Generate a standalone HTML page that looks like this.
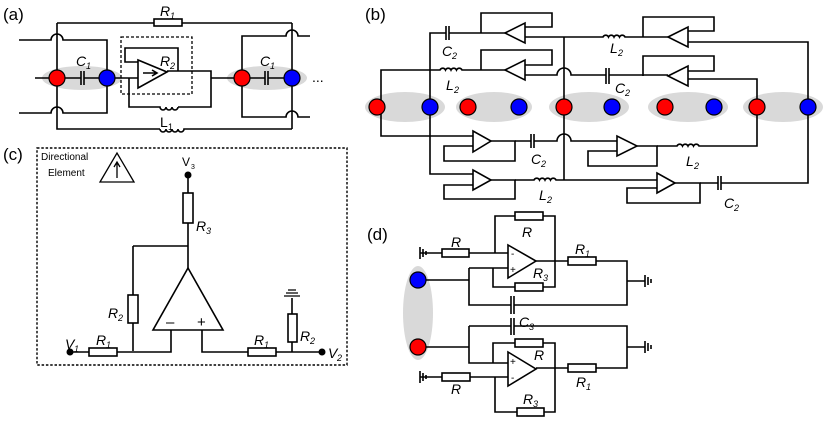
<!DOCTYPE html>
<html><head><meta charset="utf-8"><style>
html,body{margin:0;padding:0;background:#fff;}
svg{display:block;}
text{font-family:"Liberation Sans",sans-serif;fill:#000;}
.l{font-style:italic;font-size:14px;}
.s{font-size:9px;font-style:italic;}
</style></head><body>
<svg width="831" height="430" viewBox="0 0 831 430" xmlns="http://www.w3.org/2000/svg">
<g fill="none" stroke="#000" stroke-width="1.6">
<!-- ===== (a) ===== -->
<ellipse cx="82" cy="78" rx="40" ry="12" fill="#d9d9d9" stroke="none"/>
<ellipse cx="267" cy="78" rx="40" ry="12" fill="#d9d9d9" stroke="none"/>
<path d="M57 23H292"/>
<rect x="154" y="19" width="28" height="7" fill="#fff"/>
<path d="M57 23V129H160"/>
<path d="M160 129a3 3 0 0 0 6 0a3 3 0 0 0 6 0a3 3 0 0 0 6 0a3 3 0 0 0 6 0H292"/>
<path d="M19 40H51a6 6 0 0 1 12 0H107V113H63a6 6 0 0 0 -12 0H19"/>
<path d="M35 78H81M84 78H107M81 71V85M84 71V85"/>
<path d="M107 78H138"/>
<rect x="121" y="37" width="71" height="57" stroke-dasharray="3 2" stroke-width="1.3"/>
<path d="M138 60V88L167 72Z" fill="#fff"/>
<path d="M143 73H156M152 70L157 73L152 76"/>
<path d="M138 62H125V48H178V71"/>
<path d="M167 71H211V107H178"/>
<path d="M178 107a3 3 0 0 1 -6 0a3 3 0 0 1 -6 0a3 3 0 0 1 -6 0H129V78"/>
<path d="M211 78H242"/>
<path d="M242 78H265M268 78H292M265 71V85M268 71V85"/>
<path d="M310 36H298a6 6 0 0 0 -12 0H242V117H286a6 6 0 0 1 12 0H310"/>
<path d="M292 23V129"/>
</g>
<g stroke="#000" stroke-width="1.2">
<circle cx="57" cy="78" r="8" fill="#f00"/><circle cx="107" cy="78" r="8" fill="#00f"/>
<circle cx="242" cy="78" r="8" fill="#f00"/><circle cx="292" cy="78" r="8" fill="#00f"/>
</g>
<text x="3" y="20" font-size="17">(a)</text>
<text x="160" y="16" class="l">R</text><text x="170" y="19" class="s">1</text>
<text x="76" y="66" class="l">C</text><text x="86" y="69" class="s">1</text>
<text x="260" y="66" class="l">C</text><text x="270" y="69" class="s">1</text>
<text x="160" y="66" class="l">R</text><text x="170" y="69" class="s">2</text>
<text x="160" y="127" font-size="14">L</text><text x="168" y="130" font-size="9">1</text>
<text x="312" y="82" font-size="14">...</text>

<!-- ===== (b) ===== -->
<g fill="#d9d9d9" stroke="none">
<ellipse cx="405" cy="107" rx="40" ry="15"/><ellipse cx="494" cy="107" rx="38" ry="15"/>
<ellipse cx="589" cy="107" rx="40" ry="15"/><ellipse cx="688" cy="107" rx="40" ry="15"/>
<ellipse cx="783" cy="107" rx="40" ry="15"/>
</g>
<g fill="none" stroke="#000" stroke-width="1.6">
<path d="M430 107V33H446M449 33H481M446 26V40M449 26V40M481 33H505"/>
<path d="M505 33L525 23V43Z" fill="#fff"/>
<path d="M481 33V13H552V27H525"/>
<path d="M525 37H603a3 3 0 0 1 5.5 0a3 3 0 0 1 5.5 0a3 3 0 0 1 5.5 0a3 3 0 0 1 5.5 0H668"/>
<path d="M564 37V180"/>
<path d="M668 37L688 27V47Z" fill="#fff"/>
<path d="M643 37V17H714V31H688"/>
<path d="M688 42H808V107"/>
<path d="M381 107V70H440a3 3 0 0 1 5.5 0a3 3 0 0 1 5.5 0a3 3 0 0 1 5.5 0a3 3 0 0 1 5.5 0H505"/>
<path d="M505 70L525 60V80Z" fill="#fff"/>
<path d="M481 70V50H552V65H525"/>
<path d="M525 75H557a7 7 0 0 1 14 0H606M609 75H668M606 68V84M609 68V84"/>
<path d="M668 76L688 66V86Z" fill="#fff"/>
<path d="M643 76V56H714V71H688"/>
<path d="M688 79H757V107"/>
<path d="M381 107V136H473"/>
<path d="M473 131V152L491 141Z" fill="#fff"/>
<path d="M491 141H515V161H444V146H473"/>
<path d="M515 141H531M534 141H557a7 7 0 0 1 14 0H617M531 134V148M534 134V148"/>
<path d="M617 136V156L637 146Z" fill="#fff"/>
<path d="M637 146H657V166H588V151H617"/>
<path d="M657 146H677a3 3 0 0 1 5.5 0a3 3 0 0 1 5.5 0a3 3 0 0 1 5.5 0a3 3 0 0 1 5.5 0H757V107"/>
<path d="M430 107V174H473"/>
<path d="M473 170V190L491 180Z" fill="#fff"/>
<path d="M491 180H515V199H444V185H473"/>
<path d="M515 180H534a3 3 0 0 1 5.5 0a3 3 0 0 1 5.5 0a3 3 0 0 1 5.5 0a3 3 0 0 1 5.5 0H657"/>
<path d="M657 173V193L675 183Z" fill="#fff"/>
<path d="M675 183H700V203H627V188H657"/>
<path d="M700 183H718M721 183H808V107M718 176V190M721 176V190"/>
</g>
<g stroke="#000" stroke-width="1.2">
<circle cx="377" cy="107" r="8" fill="#f00"/><circle cx="430" cy="107" r="8" fill="#00f"/>
<circle cx="468" cy="107" r="8" fill="#f00"/><circle cx="519" cy="107" r="8" fill="#00f"/>
<circle cx="564" cy="107" r="8" fill="#f00"/><circle cx="612" cy="107" r="8" fill="#00f"/>
<circle cx="665" cy="107" r="8" fill="#f00"/><circle cx="714" cy="107" r="8" fill="#00f"/>
<circle cx="757" cy="107" r="8" fill="#f00"/><circle cx="808" cy="107" r="8" fill="#00f"/>
</g>
<text x="365" y="20" font-size="17">(b)</text>
<text x="442" y="56" class="l">C</text><text x="452" y="59" class="s">2</text>
<text x="446" y="90" class="l">L</text><text x="454" y="93" class="s">2</text>
<text x="610" y="53" class="l">L</text><text x="618" y="56" class="s">2</text>
<text x="615" y="93" class="l">C</text><text x="625" y="96" class="s">2</text>
<text x="531" y="164" class="l">C</text><text x="541" y="167" class="s">2</text>
<text x="686" y="166" class="l">L</text><text x="694" y="169" class="s">2</text>
<text x="539" y="200" class="l">L</text><text x="547" y="203" class="s">2</text>
<text x="724" y="208" class="l">C</text><text x="734" y="211" class="s">2</text>

<!-- ===== (c) ===== -->
<g fill="none" stroke="#000" stroke-width="1.6">
<rect x="37" y="148" width="310" height="217" stroke-dasharray="2.5 1.8" stroke-width="1.4"/>
<path d="M100 182H134L117 153Z" stroke-width="1.3"/>
<path d="M117 178V163M114 167L117 162L120 167" stroke-width="1.3"/>
<path d="M188 175V268M133 246H188M133 246V351M70 352H171V330M202 330V352H322M292 352V298"/>
<path d="M153 330H223L188 268Z" fill="#fff"/>
<rect x="183" y="193" width="10" height="30" fill="#fff"/>
<rect x="128" y="295" width="10" height="28" fill="#fff"/>
<rect x="89" y="348" width="28" height="8" fill="#fff"/>
<rect x="248" y="348" width="28" height="8" fill="#fff"/>
<rect x="288" y="314" width="9" height="28" fill="#fff"/>
<path d="M284 296H300M286 293H298M288 290H296" stroke-width="1.3"/>
</g>
<circle cx="188" cy="175" r="3.5"/><circle cx="70" cy="352" r="3.5"/><circle cx="322" cy="352" r="3.5"/>
<text x="3" y="160" font-size="17">(c)</text>
<text x="41" y="160" font-size="10">Directional</text>
<text x="48" y="176" font-size="10">Element</text>
<text x="182" y="166" font-size="12">V</text><text x="191" y="169" font-size="7">3</text>
<text x="196" y="231" class="l">R</text><text x="206" y="234" class="s">3</text>
<text x="108" y="318" class="l">R</text><text x="118" y="321" class="s">2</text>
<text x="166" y="327" font-size="15">–</text><text x="197" y="327" font-size="15">+</text>
<text x="65" y="349" class="l">V</text><text x="74" y="352" class="s">1</text>
<text x="96" y="345" class="l">R</text><text x="106" y="348" class="s">1</text>
<text x="254" y="345" class="l">R</text><text x="264" y="348" class="s">1</text>
<text x="300" y="341" class="l">R</text><text x="310" y="344" class="s">2</text>
<text x="328" y="358" class="l">V</text><text x="337" y="361" class="s">2</text>

<!-- ===== (d) ===== -->
<ellipse cx="418" cy="313" rx="15" ry="47" fill="#d9d9d9"/>
<g fill="none" stroke="#000" stroke-width="1.6">
<path d="M420 253H508M495 253V216H555V287H493V268H508M469 268H493M469 268V305H511M514 305H627V261H535"/>
<path d="M418 280H469"/>
<path d="M627 281H645M645 275V287M648 277V285M651 279V283M420 247V259M423 249V257M426 251V255"/>
<path d="M508 245V278L536 261Z" fill="#fff"/>
<rect x="442" y="249" width="27" height="8" fill="#fff"/>
<rect x="515" y="212" width="28" height="8" fill="#fff"/>
<rect x="515" y="283" width="28" height="8" fill="#fff"/>
<rect x="568" y="257" width="28" height="8" fill="#fff"/>
<path d="M511 296V314M514 296V314"/>
<path d="M511 318V335M514 318V335"/>
<path d="M469 326H511M514 326H627V368H536M469 326V363H508M493 363V343H555V412H495V377"/>
<path d="M418 347H469M420 377H508"/>
<path d="M627 347H645M645 341V353M648 343V351M651 345V349M420 371V383M423 373V381M426 375V379"/>
<path d="M508 352V386L536 369Z" fill="#fff"/>
<rect x="442" y="373" width="28" height="8" fill="#fff"/>
<rect x="515" y="339" width="28" height="8" fill="#fff"/>
<rect x="517" y="408" width="27" height="8" fill="#fff"/>
<rect x="568" y="364" width="28" height="8" fill="#fff"/>
</g>
<g stroke="#000" stroke-width="1.2">
<circle cx="418" cy="280" r="8" fill="#00f"/><circle cx="418" cy="347" r="8" fill="#f00"/>
</g>
<text x="367" y="240" font-size="17">(d)</text>
<text x="451" y="247" class="l">R</text>
<text x="522" y="237" class="l">R</text>
<text x="511" y="257" font-size="10">-</text><text x="510" y="273" font-size="10">+</text>
<text x="575" y="254" class="l">R</text><text x="585" y="257" class="s">1</text>
<text x="533" y="278" class="l">R</text><text x="543" y="281" class="s">3</text>
<text x="519" y="327" class="l">C</text><text x="529" y="330" class="s">3</text>
<text x="534" y="360" class="l">R</text>
<text x="510" y="365" font-size="10">+</text><text x="511" y="381" font-size="10">-</text>
<text x="576" y="387" class="l">R</text><text x="586" y="390" class="s">1</text>
<text x="451" y="394" class="l">R</text>
<text x="523" y="404" class="l">R</text><text x="533" y="407" class="s">3</text>
</svg>
</body></html>
